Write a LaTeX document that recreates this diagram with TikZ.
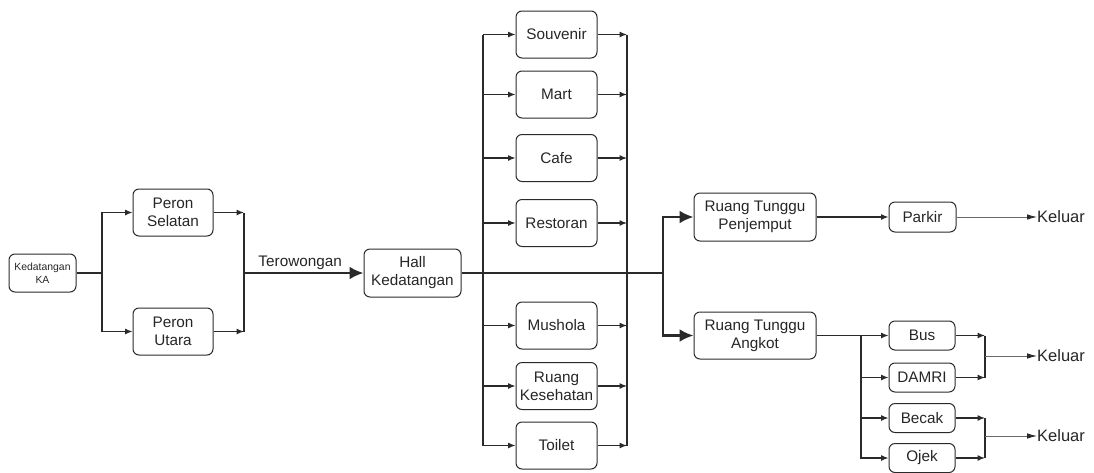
\documentclass[tikz,border=0pt]{standalone}
\usepackage{fontspec}
\setmainfont{Liberation Sans}
\usetikzlibrary{arrows.meta}
\definecolor{linec}{HTML}{2A2A2A}
\definecolor{txt}{HTML}{262626}
\definecolor{thinc}{HTML}{6A6A6A}
\newcommand{\mainsz}{\fontsize{15.3}{18}\selectfont}
\newcommand{\smallsz}{\fontsize{10.4}{12.5}\selectfont}
\newcommand{\exitsz}{\fontsize{16.5}{19}\selectfont}
\tikzset{
  box/.style={draw=linec, rounded corners=6pt, line width=1pt, align=center,
    font=\mainsz, text=txt, inner sep=0pt},
  ln/.style={draw=linec, line width=1.2pt},
  arr/.style={ln, -{Latex[length=7.5pt,width=6pt]}},
  bold/.style={draw=linec, line width=2.6pt},
  barr/.style={bold, -{Latex[length=14pt,width=13pt]}},
  exitarr/.style={draw=thinc, line width=0.8pt, -{Latex[length=10pt,width=5.5pt,color=linec]}},
  exitlbl/.style={font=\exitsz, text=txt, anchor=west, inner sep=0pt},
}
\begin{document}
\begin{tikzpicture}[x=1pt,y=-1pt]
\useasboundingbox (0,0) rectangle (1094,472);

% arrival and platforms
\node[box, font=\smallsz, minimum width=67pt, minimum height=38pt] (ka) at (42.5,273) {Kedatangan\\KA};
\node[box, minimum width=80pt, minimum height=47pt] (ps) at (173,212.5) {Peron\\Selatan};
\node[box, minimum width=80pt, minimum height=47pt] (pu) at (173,331.5) {Peron\\Utara};
\node[box, minimum width=97pt, minimum height=48pt] (hall) at (412.5,273) {Hall\\Kedatangan};

% facilities column
\foreach \n/\y/\t in {souv/34.5/Souvenir, mart/94.5/Mart, cafe/158/Cafe, resto/223/Restoran,
                      mush/325.5/Mushola, kes/386/{Ruang\\Kesehatan}, toil/445.5/Toilet}
  \node[box, minimum width=81pt, minimum height=47pt] (\n) at (556.5,\y) {\t};

% waiting rooms and transport
\node[box, minimum width=122pt, minimum height=48pt] (rtp) at (755,217) {Ruang Tunggu\\Penjemput};
\node[box, minimum width=67pt, minimum height=30pt] (parkir) at (922.5,217) {Parkir};
\node[box, minimum width=122pt, minimum height=47pt] (rta) at (755,335.5) {Ruang Tunggu\\Angkot};
\node[box, minimum width=66pt, minimum height=29pt] (bus) at (922,335.5) {Bus};
\node[box, minimum width=66pt, minimum height=29pt] (damri) at (922,377.5) {DAMRI};
\node[box, minimum width=66pt, minimum height=29pt] (becak) at (922,418) {Becak};
\node[box, minimum width=66pt, minimum height=29pt] (ojek) at (922,458) {Ojek};

\node[exitlbl] (out1) at (1037,217) {Keluar};
\node[exitlbl] (out2) at (1037,356) {Keluar};
\node[exitlbl] (out3) at (1037,436) {Keluar};

% junction points
\coordinate (j1) at (102,273);
\coordinate (j2) at (244,273);
\coordinate (j3) at (663,273);
\coordinate (lx) at (483,0);
\coordinate (rx) at (627,0);
\coordinate (j4) at (861,335.5);
\coordinate (g1) at (985,356);
\coordinate (g2) at (985,436);

% arrival to platforms
\draw[ln] (ka.east) -- (j1);
\draw[arr] (j1) |- (ps.west);
\draw[arr] (j1) |- (pu.west);
\draw[arr] (ps.east) -- (ps.east -| j2);
\draw[arr] (pu.east) -- (pu.east -| j2);
\draw[bold] (ps.east -| j2) -- (pu.east -| j2);
\draw[barr] (j2) -- node[above, pos=0.47, font=\mainsz, text=txt, inner sep=2pt] {Terowongan} (hall.west);

% facilities
\draw[ln] (souv.west -| lx) -- (toil.west -| lx);
\draw[ln] (souv.east -| rx) -- (toil.east -| rx);
\foreach \n in {souv,mart,cafe,resto,mush,kes,toil}{
  \draw[arr] (\n.west -| lx) -- (\n.west);
  \draw[arr] (\n.east) -- (\n.east -| rx);
}

% main hall axis
\draw[bold] (hall.east) -- (j3);
\draw[barr] (j3) |- (rtp.west);
\draw[barr] (j3) |- (rta.west);

% pick-up route
\draw[arr] (rtp.east) -- (parkir.west);
\draw[exitarr] (parkir.east) -- (out1.west);

% public transport
\draw[ln] (rta.east) -- (j4);
\draw[arr] (j4) -- (bus.west);
\draw[arr] (j4) |- (damri.west);
\draw[arr] (j4) |- (becak.west);
\draw[arr] (j4) |- (ojek.west);
\draw[arr] (bus.east) -- (bus.east -| g1);
\draw[arr] (damri.east) -- (damri.east -| g1);
\draw[arr] (becak.east) -- (becak.east -| g2);
\draw[arr] (ojek.east) -- (ojek.east -| g2);
\draw[draw=linec, line width=1.6pt] (bus.east -| g1) -- (damri.east -| g1);
\draw[draw=linec, line width=1.6pt] (becak.east -| g2) -- (ojek.east -| g2);
\draw[exitarr] (g1) -- (out2.west);
\draw[exitarr] (g2) -- (out3.west);
\end{tikzpicture}
\end{document}
